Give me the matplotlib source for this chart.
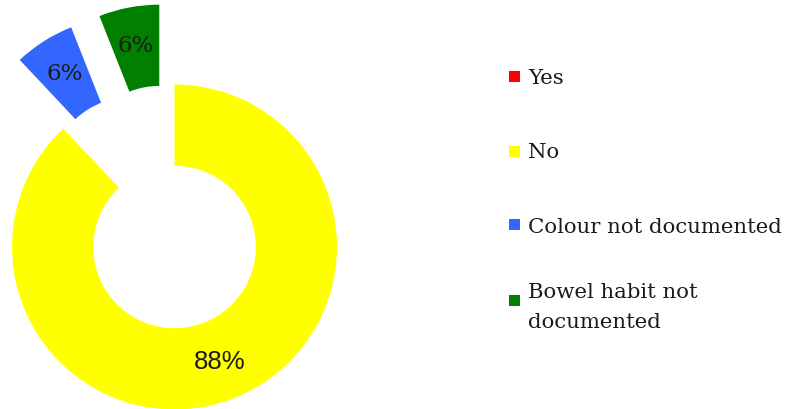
import matplotlib.pyplot as plt
from matplotlib.patches import Rectangle

labels = ['Yes', 'No', 'Colour not documented', 'Bowel habit not\ndocumented']
values = [0, 88, 6, 6]
colors = ['#FF0000', '#FFFF00', '#3366FF', '#007F00']
explode = [0, 0, 0.5, 0.5]


def fmt(p):
    return '' if p < 0.5 else '%d%%' % round(p)


W, H = 785, 409
fig = plt.figure(figsize=(W / 100, H / 100), dpi=100)
ax = fig.add_axes([0, 0, 1, 1])

wedges, texts, autotexts = ax.pie(
    values, colors=colors, explode=explode, startangle=90, counterclock=False,
    autopct=fmt, pctdistance=0.76,
    wedgeprops=dict(width=0.5, linewidth=0),
)
for i, t in enumerate(autotexts):
    t.set_color('#1a1a1a')
    if i == 1:
        t.set_family('Liberation Sans')
        t.set_fontsize(18.5)
    else:
        t.set_family('DejaVu Serif')
        t.set_fontsize(16.5)

# pixel-matched limits (radius ~162.5 px, centre at ~(174.5, 247))
ax.set_aspect('auto')
ax.set_xlim(-1.074, 3.757)
ax.set_ylim(-0.997, 1.52)
ax.axis('off')

# legend drawn by hand so the square sits on the first line of each label
rows_px = [76, 151, 225, 300]
for lab, col, ypx in zip(labels, colors, rows_px):
    s = 11
    fig.patches.append(Rectangle(((514 - s / 2) / W, 1 - (ypx + s / 2) / H), s / W, s / H,
                                 transform=fig.transFigure, facecolor=col, edgecolor='none'))
    fig.text(528 / W, 1 - ypx / H, lab, ha='left', va='center_baseline',
             family='DejaVu Serif', fontsize=15.3, color='#1a1a1a', linespacing=1.75)

fig.savefig('out.png', dpi=100)
